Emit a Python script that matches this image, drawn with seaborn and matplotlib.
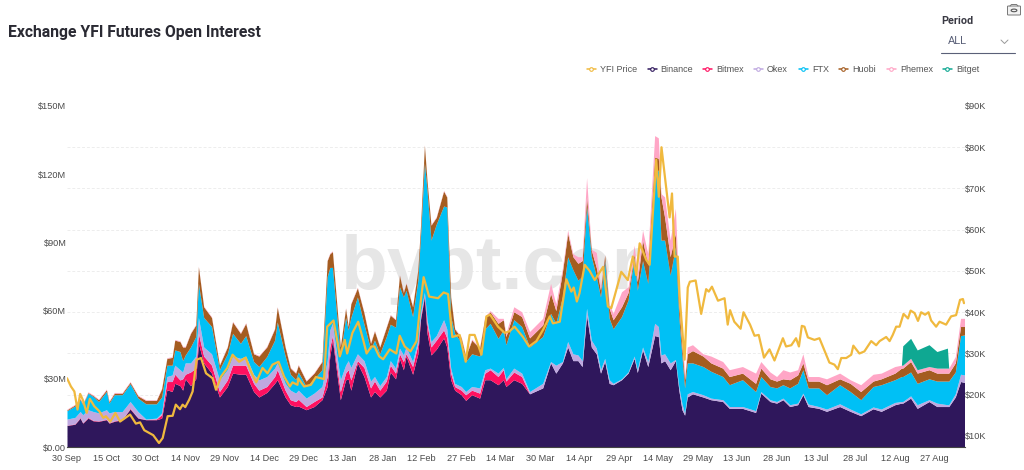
import matplotlib
matplotlib.use("Agg")
import matplotlib.pyplot as plt
from matplotlib.lines import Line2D
from matplotlib.patches import Circle, FancyBboxPatch
import numpy as np
import seaborn as sns

# day index since 30 Sep, shared by all exchanges
days = [0, 3, 5, 6, 8, 10, 12, 15, 16, 18, 21, 24, 27, 30, 34, 36, 38, 40, 41, 43, 44, 45, 47, 49, 50, 52, 55, 58, 61, 63, 66, 68, 71, 73, 76, 79, 80, 83, 85, 87, 88, 91, 94, 97, 99, 100, 101,
        104, 106, 107, 108, 110.5, 113, 115.5, 117, 119, 121.5, 123, 125, 126.5, 128, 129, 131.5, 133.5, 134.5, 136, 137, 138.5, 140.5, 143.3, 144.5, 146, 147.5, 150, 151.7, 154, 157, 159, 161, 164, 166, 167, 170, 173, 176,
        181, 184, 186, 188.5, 190.5, 192.5, 194.4, 196, 197.7, 199.5, 201.4, 203, 204.6, 206.3, 207.8, 211, 213.5, 215.8, 217, 219, 221, 223.6, 225, 226, 227.4, 229.5, 231.5, 232.8, 234,
        235, 236, 238, 242, 245, 249.5, 252, 257, 262, 264, 267.5, 270, 272.4, 275, 278, 280, 282, 286, 289, 294, 298, 302, 306.7, 309.8, 315, 317.5, 318, 321, 323.5, 328, 331, 335, 335.5, 338, 340, 341.5]

# top edge of each band in $M
binance_top = [9.5, 10, 12.7, 10.5, 12.7, 11.5, 11.3, 12, 10.5, 11.3, 12, 16.7, 12.7, 12, 12, 12.7, 25.2, 24.4, 28, 27, 25, 30, 27, 30, 45.6, 37, 32.5, 22, 26.6, 32.5, 32, 32, 24.4, 22, 24, 28, 29.6, 22, 18.6, 17.8, 18, 16.4, 17.8, 20.8, 26.6, 40, 47,
               20.8, 29.5, 30, 25, 37, 31, 22, 24.4, 22, 25, 33, 30, 39, 34, 40, 32, 41, 56, 66, 50, 40.5, 43, 48, 44, 29.6, 25, 23, 20.5, 23, 21.5, 29.6, 29.6, 27.4, 29.6, 26.6, 29.6, 28, 23.4,
               26, 37, 32.5, 37, 44, 38, 38, 35.4, 58, 44, 41, 32.5, 37.6, 28, 27.4, 29.6, 32.5, 39, 32.8, 42.7, 35.4, 49, 48.6, 37, 38, 34, 38, 25, 16.4,
               14, 22, 23.4, 22, 20.8, 20, 17, 17, 15.2, 23.7, 20, 19.3, 20.8, 17.8, 18.6, 23, 17.8, 17, 15.7, 17.8, 15.7, 13.8, 16.8, 15.7, 18.6, 19.3, 19.3, 21.5, 17, 20, 17.8, 17.8, 17.8, 22, 28.8, 28.4]
bitmex_top = [9.6, 10.2, 13, 10.7, 13, 11.7, 11.5, 12.2, 10.7, 11.5, 12.2, 17, 12.9, 12.1, 12.3, 14.2, 28.8, 28.8, 32, 29.5, 30, 32, 33, 34.7, 50, 40, 36, 24.4, 29.5, 36, 36, 36, 28, 25, 26.6, 31, 34, 25, 20.8, 20, 21, 17.8, 20, 22, 31, 44, 49,
              24.4, 32.5, 34, 29.5, 38, 35, 26, 29, 25, 29, 36, 32.5, 41, 37.6, 41, 35.4, 45, 57, 67, 54, 44, 47, 51.5, 48, 32.5, 26.6, 25, 23, 25, 23.7, 32.5, 34, 31, 34, 29, 33, 31, 23.4,
              26, 37, 32.5, 37, 44, 38, 38, 35.4, 58, 44, 41, 32.5, 37.6, 28, 27.4, 29.6, 32.5, 39, 32.8, 42.7, 35.4, 49, 48.6, 37, 38, 34, 38, 25, 16.4,
              14, 22, 23.4, 22, 20.8, 20, 17, 17, 15.2, 23.7, 20, 19.3, 20.8, 17.8, 18.6, 23, 17.8, 17, 15.7, 17.8, 15.7, 13.8, 16.8, 15.7, 18.6, 19.3, 19.3, 21.5, 17, 20, 17.8, 17.8, 17.8, 22, 28.8, 28.4]
okex_top = [12.3, 13, 15.6, 14.2, 16.4, 15.6, 15, 16.4, 15, 15.6, 15.6, 20, 15.6, 12.3, 12.7, 15, 31, 31.7, 36, 34, 33, 37, 37, 40, 57, 44, 41, 29.5, 34, 40, 39, 40, 32, 29.5, 31, 34.7, 37, 28, 25, 23.7, 25, 21.5, 23.7, 26.6, 38, 51.5, 54.4,
            29.5, 36, 38, 35, 41, 38, 29, 31, 27, 31, 38, 34.7, 43.5, 40.5, 44, 37.6, 47, 59, 68, 56, 46.4, 49, 56, 52, 34.7, 28, 26.6, 24.4, 26.6, 26, 34, 34.7, 32.5, 35, 30, 34.7, 32.5, 24.4,
            28, 37.6, 36, 37.6, 46.4, 41, 40.5, 38, 61, 47, 43.5, 34, 39, 29.6, 28, 30, 33, 40, 34, 44, 37.6, 54.4, 53, 40.5, 41, 37, 38.5, 26.6, 19,
            15, 23.4, 24.4, 23, 21.5, 20.8, 17.8, 17.8, 16, 24.4, 20.8, 20, 21.5, 18.6, 19.3, 23.7, 18.9, 17.8, 16.7, 19, 16.7, 14.6, 17.6, 16.7, 19.6, 20, 20, 22.5, 18.6, 20.8, 19.3, 18.6, 18.6, 23.4, 32, 31.7]
ftx_top = [16, 18, 20.8, 18.5, 23.7, 22.2, 20, 24.4, 19.3, 23, 23, 27.8, 21.5, 19, 19, 22, 36, 36, 42.7, 42, 38, 40.5, 44, 48.6, 72, 57, 53, 34, 41, 50, 45.6, 49, 37.6, 35.4, 39.8, 47, 55, 40, 32, 29.6, 33, 26.6, 30, 34, 75, 79, 79,
           40, 57, 51.5, 57, 66, 54, 43, 47, 41, 48.6, 54, 52.7, 70.5, 66, 69, 57.4, 73.4, 92.5, 125, 113, 91, 98, 106, 105.6, 57.4, 50, 46, 37.6, 41, 40, 52, 54.4, 47.8, 51.5, 45, 56, 53, 44,
           48.6, 58.8, 54.4, 66, 83.7, 78, 73.4, 75, 106, 83.7, 75, 66, 82, 56.6, 52, 57.4, 64.7, 83.7, 69, 82, 72, 118.8, 122, 91, 91, 75.6, 88, 57.4, 40,
           26, 37, 37, 35.4, 33.3, 31, 27.4, 29.6, 24.4, 31, 26.6, 26, 27.4, 26, 28, 34, 26, 26, 23, 27.4, 24.4, 20.8, 26.6, 27.4, 29.6, 31, 31, 33, 28, 30, 29, 29, 29, 33, 49, 49.3]
huobi_top = [16.4, 18.5, 21.2, 19, 24, 22.6, 20.8, 25.2, 20, 23.7, 23.7, 28.5, 22.5, 20.5, 20.5, 25.6, 39, 39.4, 47, 46.4, 44, 44, 50, 53.7, 79.3, 61.7, 57, 36, 44, 55, 50, 54.4, 41, 40, 44, 52, 61.5, 44, 34.7, 32.5, 36, 29, 32.5, 37.6, 82, 85, 86,
             44, 61, 53, 63, 70, 59, 45.6, 51, 44, 52.7, 58, 56, 75.6, 68, 72, 61.7, 78, 97, 132.7, 117, 97.6, 101, 112.6, 110, 66, 52, 48, 40, 47, 43.5, 57, 59.5, 54.4, 56, 48.6, 59.5, 57.4, 48,
             53.7, 67.6, 60, 77, 94, 83.7, 80.8, 82, 110, 86.6, 79, 69, 84.4, 61, 56, 61.7, 68, 85, 72.7, 91, 80, 127.6, 127, 110, 101, 83.7, 94, 63, 44,
             29.6, 41, 42.4, 40, 37, 34.7, 31, 32.5, 28, 34.7, 30, 29, 30, 29.6, 31.7, 37, 29, 29, 27.4, 30, 28, 24.4, 29, 30, 32.5, 34.7, 34.7, 37.6, 32.5, 34, 32.5, 32.5, 32.5, 37, 53, 53]
phemex_top = [16.7, 18.8, 21.5, 19.3, 24.3, 22.9, 21.1, 25.5, 20.3, 24, 24, 28.8, 22.8, 20.8, 20.8, 25.9, 39.3, 39.7, 47.3, 46.7, 44.3, 44.3, 50.3, 54, 79.6, 62, 57.3, 36.3, 44.3, 55.3, 50.3, 54.7, 41.3, 40.3, 44.3, 52.3, 61.8, 44.3, 35, 32.8, 36.3, 29.3, 32.8, 37.9, 82.3, 85.3, 86.3,
              44.3, 61.3, 53.3, 63.3, 70.3, 59.3, 45.9, 51.3, 44.3, 53, 58.3, 56.3, 75.9, 68.3, 72.3, 62, 78.3, 97.3, 133, 117.3, 97.9, 101.3, 112.9, 110.3, 66.3, 52.3, 48.5, 40.5, 47.5, 44, 57.5, 60, 56.6, 56.6, 50, 61.7, 59.5, 50.8,
              56.6, 72, 63, 78.6, 95.4, 85, 83.7, 83.7, 118.5, 87, 85.6, 70.5, 84.7, 63, 58.8, 68.3, 70.5, 88.8, 76.4, 95.4, 85, 137, 136, 111.5, 110, 91, 105, 69, 54,
              31, 44, 45, 41, 40, 37.6, 34, 35.4, 32.5, 37.6, 33, 31, 34, 33, 34, 41, 31, 31, 30, 32.5, 29.6, 27.4, 32, 32.5, 35.4, 36, 36, 39, 34, 35.4, 34.7, 34.7, 34.7, 39.8, 56.6, 56.6]

# Bitget only reports for a couple of weeks in August
bitget_days = [318, 321, 323.5, 328, 331, 335]
bitget_oi = [8.5, 8.8, 8.7, 9.6, 7.3, 8.8]

# YFI price in $K
price_days = [0, 1.5, 2.8, 4, 5, 6, 7.5, 8.7, 10.4, 12.3, 13.8, 14.8, 16.5, 18.4, 20.2, 24, 26.2, 27.8, 29.4, 32.8, 35, 36.4, 38.3, 40.2, 41.4, 43, 44, 45, 46.5, 47.8, 49.3, 51, 52.9, 55.4, 56.7, 58.6, 61, 63, 65.5, 68, 70, 72, 74.4, 76.3, 78.2, 80.5, 82.6, 84.8, 85.8, 87.7, 88, 90.2, 92.8, 94.7, 97.8, 99, 101.4, 103,
              103.8, 105.7, 106.6, 108.6, 110.8, 112.7, 114, 115.8, 117, 118.8, 120.3, 122.8, 125.3, 126.6, 128.5, 130.7, 133, 134.2, 135.7, 137.8, 141.2, 143.3, 145, 146.6, 149.4, 151.7, 153.2, 155.1, 157.7, 159.6, 161, 164, 166.5, 168.4, 170.3, 173.5, 175.8, 178.6, 181.1, 183.7, 184.9, 187.5, 190, 191.9, 192.8, 194, 195, 197, 198.9, 200.8, 204, 205.8, 207.1, 210.9, 213.4, 215.3, 216.6, 217.9, 220.4, 221.7, 224.2, 225.2, 226.2, 229.3, 230.2, 231.2, 232.4, 233.1,
              235, 236.2, 237, 239.2, 241.3, 243.2, 244.2, 245.4, 247.7, 250.2, 251.4, 252.3, 253.9, 256.3, 257.4, 259.9, 261.6, 263.2, 265.2, 267.3, 269.2, 272.4, 273.6, 275.6, 277.4, 278.5, 279.6, 280.6, 281.9, 284.4, 286.3, 290.1, 292, 293.3, 294.6, 296.5, 298.4, 299.2, 301.5, 303.4, 306, 307.9, 309.2, 311.7, 313, 314.2, 315.5, 316.8, 318.3, 320, 321, 322.5, 323.8, 325, 326.5, 327.8, 328.8, 330.7, 332, 334.5, 336.4, 338.3, 339.8, 340.9, 341.3]
price_values = [24, 22, 20.8, 16.4, 20.2, 18.8, 15.6, 19, 17.2, 16, 14.4, 14.8, 13.5, 15.6, 13.5, 15.2, 13, 13.3, 11.4, 10.2, 8.3, 9.5, 14.8, 14.9, 17.6, 16.5, 17.6, 17, 18.8, 20.8, 28.5, 28.9, 25.2, 24, 21.2, 24.4, 26.5, 29.7, 28, 29, 25.6, 23, 26.5, 25.2, 27.3, 28, 24.4, 22, 23, 22.4, 24, 22, 22.4, 24.3, 23.8, 36.5, 38, 32.5,
                29.3, 33.3, 30, 35, 37.7, 33.3, 30, 31.7, 31.7, 29.3, 28.6, 31, 30, 34.3, 31.7, 30.5, 33, 40.5, 48.5, 43.8, 43.4, 44.8, 44.4, 34, 34.5, 28, 34.5, 34.5, 29.7, 39, 39.4, 36.5, 35, 35.4, 36.5, 34, 31.7, 33, 35.7, 39, 37.3, 37.7, 48, 45, 46, 42.6, 44.6, 51.5, 50, 47.8, 51, 41.4, 41, 49.8, 47.8, 53.5, 49, 56.7, 52.7, 51.5, 77, 68, 80, 63, 68.8, 53.5, 53.5, 43.8,
                28.5, 46, 47.4, 47.7, 39.6, 45.6, 45, 46.2, 42.8, 43.4, 37, 40.5, 37.7, 36, 40, 37, 34.3, 34.5, 29, 31, 28.3, 33.7, 31.7, 32, 33.7, 31.7, 36.7, 36.5, 33.9, 33.3, 33.7, 27.8, 27.3, 26.2, 28.9, 28.9, 29.7, 31.9, 30, 30.5, 33, 32, 33, 34, 33, 34.5, 36.5, 36.5, 39.6, 38.5, 40.4, 39.8, 37.9, 40, 39.4, 40, 38, 36.5, 37.7, 37, 39, 39.3, 43, 43.2, 42.2]

date_labels = ["30 Sep", "15 Oct", "30 Oct", "14 Nov", "29 Nov", "14 Dec", "29 Dec", "13 Jan", "28 Jan", "12 Feb", "27 Feb", "14 Mar",
               "30 Mar", "14 Apr", "29 Apr", "14 May", "29 May", "13 Jun", "28 Jun", "13 Jul", "28 Jul", "12 Aug", "27 Aug"]
oi_ticks = [0, 30, 60, 90, 120, 150]
oi_labels = ["$0.00", "$30M", "$60M", "$90M", "$120M", "$150M"]
price_ticks = [10, 20, 30, 40, 50, 60, 70, 80, 90]
price_labels = ["$10K", "$20K", "$30K", "$40K", "$50K", "$60K", "$70K", "$80K", "$90K"]

series_names = ["YFI Price", "Binance", "Bitmex", "Okex", "FTX", "Huobi", "Phemex", "Bitget"]
colors = ["#f0b93e", "#2f175c", "#ff1060", "#bfa8e0", "#00c0f5", "#a45c20", "#ffa6c6", "#0fa892"]

W, H = 1024, 470
PRICE_MIN = 7.33


def fx(px):
    return px / W


def fy(px):
    return 1 - px / H


sns.set_theme(style="white")
plt.rcParams["font.family"] = ["Liberation Sans", "DejaVu Sans"]

fig = plt.figure(figsize=(W / 100, H / 100), dpi=100)
ax = fig.add_axes([fx(67), fy(447), fx(964.5 - 67), (447 - 106) / H])
ax.patch.set_alpha(0)

# stack tops -> per exchange values
tops = np.array([binance_top, bitmex_top, okex_top, ftx_top, huobi_top, phemex_top])
bitget_col = np.zeros(len(days))
for d, v in zip(bitget_days, bitget_oi):
    bitget_col[days.index(d)] = v
stack = np.vstack([tops[0], np.diff(tops, axis=0), bitget_col])
ax.stackplot(days, stack, colors=colors[1:], linewidth=0, zorder=2)

ax.text(0.494, 0.52, "bybt.com", transform=ax.transAxes, ha="center", va="center", fontsize=55,
        fontweight="bold", color="#e6e6e6", zorder=1, family="Liberation Sans")

ax.set_xlim(0, 341.5)
ax.set_ylim(0, 150)
ax.set_xticks(np.arange(len(date_labels)) * 15)
ax.set_xticklabels(date_labels)
ax.set_yticks(oi_ticks)
ax.set_yticklabels(oi_labels)
# dashed grid follows the price axis, so it is off the left ticks
grid_pos = [(k - PRICE_MIN) / (90 - PRICE_MIN) * 150 for k in price_ticks]
ax.set_yticks(grid_pos, minor=True)
ax.grid(which="minor", axis="y", color="#ededed", linestyle=(0, (3, 2)), linewidth=0.7, zorder=0)
ax.grid(which="major", visible=False)
ax.set_axisbelow(True)
ax.tick_params(axis="x", which="major", labelsize=6.6, labelcolor="#4a4a4a", length=0, pad=5)
ax.tick_params(axis="y", which="major", labelsize=6.6, labelcolor="#4a4a4a", length=0, pad=0.5)
ax.tick_params(axis="y", which="minor", length=0)
sns.despine(ax=ax, left=True, right=True, top=True)
ax.spines["bottom"].set_color("#444444")
ax.spines["bottom"].set_linewidth(0.8)

ax2 = ax.twinx()
sns.lineplot(x=price_days, y=price_values, ax=ax2, color=colors[0], linewidth=1.6, estimator=None, sort=False)
ax2.set_ylim(PRICE_MIN, 90)
ax2.set_yticks(price_ticks)
ax2.set_yticklabels(price_labels)
ax2.set_ylabel("")
ax2.tick_params(axis="y", labelsize=6.6, labelcolor="#4a4a4a", length=0, pad=0.5)
sns.despine(ax=ax2, left=True, right=True, top=True, bottom=True)

# header
fig.text(fx(8), fy(32), "Exchange YFI Futures Open Interest", fontsize=11.3, fontweight="bold",
         color="#2a2a33", family="Roboto", va="center")
fig.text(fx(941), fy(21), "Period", fontsize=7.8, fontweight="bold", color="#3a3a44", family="Roboto", va="center")
fig.text(fx(947.5), fy(40.5), "ALL", fontsize=8, color="#5a6078", family="Roboto", va="center")
fig.add_artist(Line2D([fx(941), fx(1015)], [fy(52.5), fy(52.5)], color="#5a6078", linewidth=0.8))
fig.add_artist(Line2D([fx(1001), fx(1004.5), fx(1008)], [fy(40), fy(43.5), fy(40)], color="#9a9a9a", linewidth=0.7))

# camera icon
fig.add_artist(FancyBboxPatch((fx(1007.5), fy(15)), fx(13), 9 / H, boxstyle="round,pad=0,rounding_size=0.001",
                              transform=fig.transFigure, facecolor="#f2f2f2", edgecolor="#777777", linewidth=0.7))
fig.add_artist(Line2D([fx(1010), fx(1011.5), fx(1016.5), fx(1018)], [fy(6), fy(4.5), fy(4.5), fy(6)],
                      color="#777777", linewidth=0.7))
fig.add_artist(Circle((fx(1014), fy(10.4)), 0.0028, transform=fig.transFigure, facecolor="none",
                      edgecolor="#555555", linewidth=0.8))

# legend row
handle_x = [591, 652, 707, 758, 803, 843, 891, 947]
text_x = [600, 660, 716.5, 767, 812, 852.5, 900, 956]
for name, color, hx, tx in zip(series_names, colors, handle_x, text_x):
    fig.add_artist(Line2D([fx(hx - 4.5), fx(hx), fx(hx + 4.5)], [fy(69), fy(69), fy(69)], color=color, linewidth=1.1,
                          marker="o", markevery=[1], markersize=2.6, markerfacecolor="white",
                          markeredgecolor=color, markeredgewidth=0.8))
    fig.text(fx(tx), fy(69), name, fontsize=6.5, color="#555555", va="center")

fig.savefig("out.png", dpi=100)
